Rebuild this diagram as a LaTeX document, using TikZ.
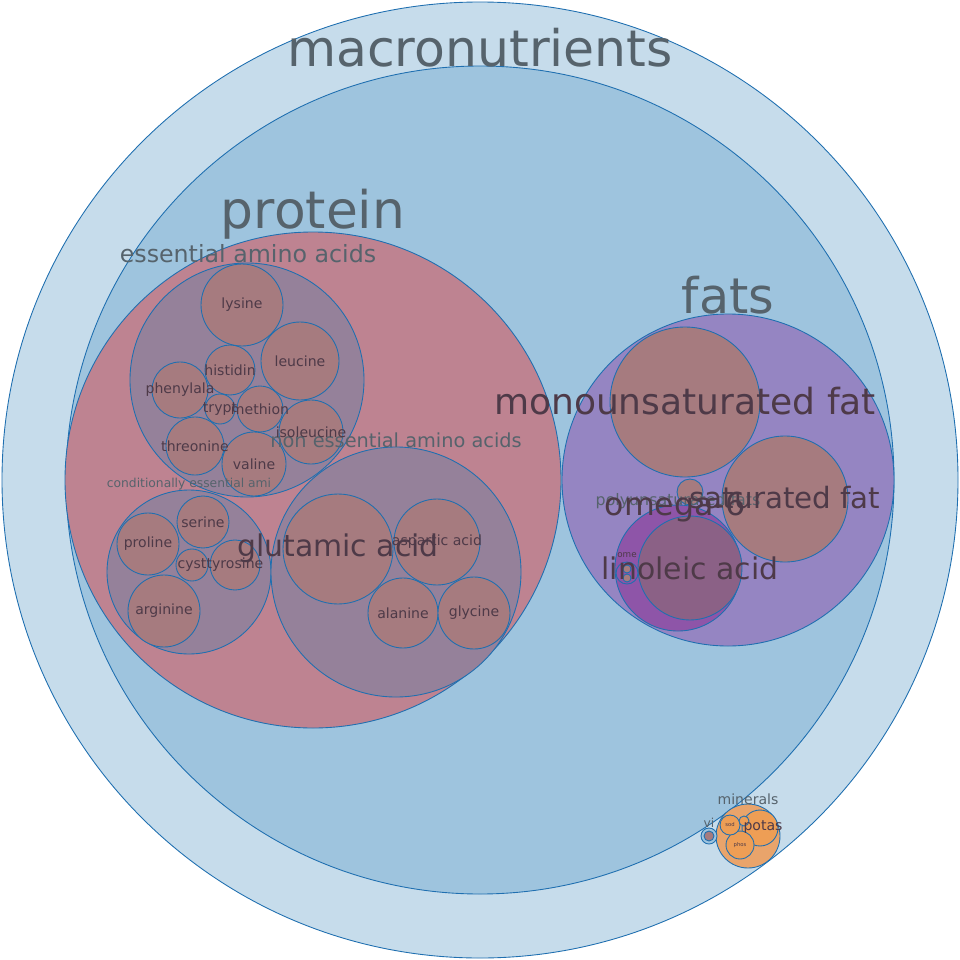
\documentclass[tikz,border=0pt]{standalone}
\usepackage{fontspec}
\setmainfont{DejaVu Sans}
\definecolor{outerblue}{HTML}{C6DCEB}
\definecolor{innerblue}{HTML}{9EC4DE}
\definecolor{protfill}{HTML}{BE8391}
\definecolor{groupfill}{HTML}{95819A}
\definecolor{leaffill}{HTML}{A67B7F}
\definecolor{fatfill}{HTML}{9585C2}
\definecolor{polyfill}{HTML}{8E55A8}
\definecolor{linofill}{HTML}{8B6186}
\definecolor{minfill}{HTML}{E9A46B}
\definecolor{potfill}{HTML}{EE9E55}
\definecolor{edgeblue}{HTML}{1F6FB0}
\definecolor{labelgrey}{HTML}{56636C}
\definecolor{leaftext}{HTML}{4E3A48}
\tikzset{
  bubble/.style={draw=edgeblue, line width=0.5pt},
  lbl/.style={text=labelgrey, inner sep=0pt},
  leaflbl/.style={text=leaftext, inner sep=0pt, font=\fontsize{8}{8}\selectfont},
}
% \bub{x}{y}{r}{fill}{name}
\newcommand{\bub}[5]{\draw[bubble, fill=#4] (#1,#2) circle (#3);\coordinate (#5) at (#1,#2);}
\begin{document}
\begin{tikzpicture}[x=0.02cm, y=-0.02cm]
    \useasboundingbox (0,0) rectangle (960,960);
    % Outer levels
    \bub{480}{480}{478}{outerblue}{macro}
    \bub{480}{480}{414}{innerblue}{carbs}
    % Protein
    \bub{313}{480}{248}{protfill}{protein}
    \bub{247}{380}{117}{groupfill}{essential}
    \bub{189}{572}{82}{groupfill}{conditional}
    \bub{396}{572}{125}{groupfill}{nonessential}
    \foreach \x/\y/\r/\n in {242/305/41/lysine, 230/370/25/histidin, 300/361/39/leucine,
        180/390/28/phenylala, 220/409/15/trypt, 260/409/23/methion, 311/432/32/isoleucine,
        195/446/29/threonine, 254/464/32/valine, 203/522/26/serine, 148/544/31/proline,
        192/565/16/cyst, 235/565/25/tyrosine, 164/611/36/arginine, 338/549/55/glutamic,
        437/542/43/aspartic, 403/613/35/alanine, 474/613/36/glycine}
        \draw[bubble, fill=leaffill] (\x,\y) circle (\r) coordinate (\n);
    % Fats
    \bub{728}{480}{166}{fatfill}{fats}
    \bub{685}{402}{75}{leaffill}{mono}
    \bub{785}{499}{63}{leaffill}{saturated}
    \bub{690}{492}{13}{leaffill}{trans}
    \bub{678}{568}{63}{polyfill}{poly}
    \bub{690}{568}{52}{linofill}{linoleic}
    \bub{627}{573}{11}{polyfill}{omegathree}
    \bub{627}{569}{4}{leaffill}{alaone}
    \bub{627}{578}{4}{leaffill}{alatwo}
    % Minerals and vitamins
    \bub{748}{836}{32}{minfill}{minerals}
    \bub{760}{828}{18}{potfill}{potas}
    \bub{740}{845}{14}{potfill}{phos}
    \bub{730}{825}{10}{potfill}{sod}
    \bub{744}{821}{5}{potfill}{magn}
    \bub{709}{836}{8}{innerblue}{vitamins}
    \bub{709}{836}{5}{leaffill}{vitleaf}
    % Labels
    \node[lbl, font=\fontsize{28.7}{28.7}\selectfont] at (480,48) {macronutrients};
    \node[lbl, font=\fontsize{29.5}{29.5}\selectfont] at (313,214) {protein};
    \node[lbl, font=\fontsize{28}{28}\selectfont] at (728,295) {fats};
    \node[lbl, font=\fontsize{13.5}{13.5}\selectfont] at (248,254) {essential amino acids};
    \node[lbl, font=\fontsize{11}{11}\selectfont] at (396,440) {non essential amino acids};
    \node[lbl, font=\fontsize{7}{7}\selectfont] at (189,484) {conditionally essential ami};
    \node[lbl, font=\fontsize{9}{9}\selectfont] at (678,501) {polyunsaturated fats};
    \node[lbl, font=\fontsize{8}{8}\selectfont] at (748,799) {minerals};
    \node[lbl, font=\fontsize{7}{7}\selectfont] at (709,823) {vi};
    \node[leaftext, font=\fontsize{20.5}{20.5}\selectfont] at (685,401) {monounsaturated fat};
    \node[leaftext, font=\fontsize{16.7}{16.7}\selectfont] at (785,498) {saturated fat};
    \node[leaftext, font=\fontsize{18}{18}\selectfont] at (675,507) {omega-6};
    \node[leaftext, font=\fontsize{17}{17}\selectfont] at (690,568) {linoleic acid};
    \node[leaftext, font=\fontsize{17}{17}\selectfont] at (338,548) {glutamic acid};
    \node[leaftext, font=\fontsize{5}{5}\selectfont] at (627,555) {ome};
    \node[leaftext, font=\fontsize{8}{8}\selectfont] at (763,827) {potas};
    \node[leaftext, font=\fontsize{3}{3}\selectfont] at (740,845) {phos};
    \node[leaftext, font=\fontsize{3}{3}\selectfont] at (730,825) {sod};
    \foreach \n/\t in {lysine/lysine, histidin/histidin, leucine/leucine, phenylala/phenylala,
        trypt/trypt, methion/methion, isoleucine/isoleucine, threonine/threonine, valine/valine,
        serine/serine, proline/proline, cyst/cyst, tyrosine/tyrosine, arginine/arginine,
        aspartic/aspartic acid, alanine/alanine, glycine/glycine}
        \node[leaflbl] at (\n) {\t};
\end{tikzpicture}
\end{document}
